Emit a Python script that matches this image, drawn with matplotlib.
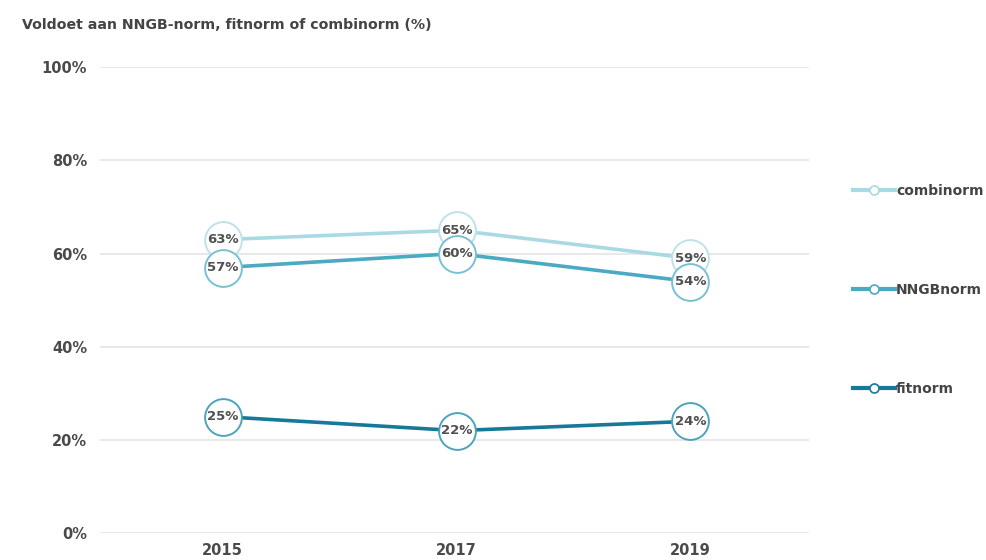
import matplotlib
matplotlib.use("Agg")
import matplotlib.pyplot as plt
from matplotlib.lines import Line2D

years = [2015, 2017, 2019]
combinorm = [63, 65, 59]
nngbnorm = [57, 60, 54]
fitnorm = [25, 22, 24]

# name, values, line colour, circle edge colour
series = [
    ("combinorm", combinorm, "#a9d9e3", "#bfe2ea"),
    ("NNGBnorm", nngbnorm, "#4aaac2", "#78c1d2"),
    ("fitnorm", fitnorm, "#17799a", "#4ca4bc"),
]

fig = plt.figure(figsize=(9.86, 5.6), dpi=100)
ax = fig.add_axes([0.101, 0.048, 0.719, 0.832])

for y in [0, 20, 40, 60, 80, 100]:
    ax.axhline(y, color="#e8e8e8", lw=1.4, zorder=0)

# lines first, then the white circles with labels on top
for name, vals, col, ec in series:
    ax.plot(years, vals, color=col, lw=2.6, zorder=2)
for name, vals, col, ec in series:
    ax.plot(years, vals, ls="none", marker="o", ms=26.5, mfc="white",
            mec=ec, mew=1.4, zorder=3)
    for x, v in zip(years, vals):
        ax.text(x, v, f"{v}%", ha="center", va="center", fontsize=9.5,
                color="#505050", fontweight="semibold", zorder=4)

ax.set_xlim(2013.946, 2020.01)
ax.set_ylim(0, 100)
ax.set_xticks(years)
ax.set_xticklabels([str(y) for y in years])
ax.set_yticks([0, 20, 40, 60, 80, 100])
ax.set_yticklabels([f"{y}%" for y in [0, 20, 40, 60, 80, 100]])
ax.tick_params(length=0, labelsize=10.5, labelcolor="#4a4a4a")
ax.tick_params(axis="x", pad=7)
ax.tick_params(axis="y", pad=9)
for lab in ax.get_xticklabels() + ax.get_yticklabels():
    lab.set_fontweight("semibold")
for s in ax.spines.values():
    s.set_visible(False)
ax.set_facecolor("none")

handles = [Line2D([0], [0], color=col, lw=3, marker="o", ms=6.5, mfc="white",
                  mec=col, mew=1.2) for name, vals, col, ec in series]
leg = fig.legend(handles, [s[0] for s in series], loc="center left",
                 bbox_to_anchor=(0.865, 0.482), frameon=False, fontsize=10,
                 labelspacing=6.1, handlelength=3.0, handletextpad=0.1,
                 borderaxespad=0, borderpad=0)
for t in leg.get_texts():
    t.set_color("#444444")
    t.set_fontweight("semibold")

fig.text(0.022, 0.955, "Voldoet aan NNGB-norm, fitnorm of combinorm (%)",
         fontsize=10.2, fontweight="semibold", color="#444444", va="center")

fig.savefig("out.png", dpi=100)
